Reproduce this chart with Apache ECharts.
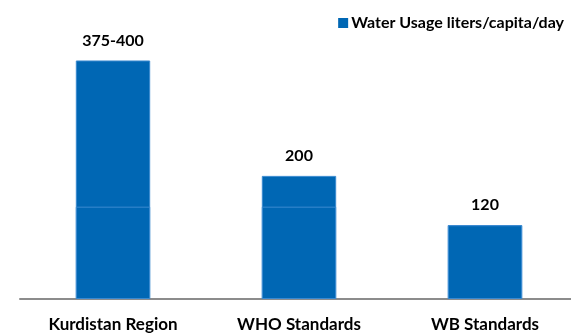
<!DOCTYPE html>
<html>
<head>
<meta charset="utf-8">
<script src="https://cdn.jsdelivr.net/npm/echarts@6/dist/echarts.min.js"></script>
<style>html,body{margin:0;padding:0;background:#fff}#c{width:571px;height:335px}</style>
</head>
<body>
<div id="c"></div>
<script>
const categories = ['Kurdistan Region', 'WHO Standards', 'WB Standards'];
const values = [387.5, 200, 120];
const valueLabels = ['375-400', '200', '120'];
const seriesName = 'Water Usage liters/capita/day';
const splitAt = 150;

const chart = echarts.init(document.getElementById('c'), null, {renderer: 'canvas'});
const font = 'Lato';
chart.setOption({
  animation: false,
  backgroundColor: '#ffffff',
  grid: {left: 20, top: 22, width: 558, height: 277, containLabel: false, outerBoundsMode: 'none'},
  legend: {
    data: [seriesName],
    right: 2, top: 10,
    itemWidth: 10, itemHeight: 10, itemGap: 0,
    icon: 'rect',
    itemStyle: {borderWidth: 0},
    textStyle: {fontFamily: font, fontWeight: 'bold', fontSize: 16, color: '#000', padding: [0,0,0,-2]}
  },
  xAxis: {
    type: 'category',
    data: categories,
    axisLine: {lineStyle: {color: '#8c8c8c', width: 2}},
    axisTick: {show: false},
    axisLabel: {fontFamily: font, fontWeight: 'bold', fontSize: 17, color: '#000', margin: 17}
  },
  yAxis: {
    type: 'value', min: 0, max: 450, show: false,
    splitLine: {show: false}
  },
  series: [
    {
      name: seriesName,
      type: 'bar',
      data: values,
      barWidth: '40%',
      itemStyle: {color: '#0067b4', borderColor: '#3b8ad0', borderWidth: 1},
      label: {
        show: true, position: 'top', distance: 12,
        fontFamily: font, fontWeight: 'bold', fontSize: 16, color: '#000',
        formatter: p => valueLabels[p.dataIndex]
      },
      z: 2
    },
    {
      name: 'split',
      type: 'bar',
      data: values.map(v => Math.min(v, splitAt)),
      barWidth: '40%',
      barGap: '-100%',
      silent: true,
      itemStyle: {color: 'rgba(0,0,0,0)', borderColor: '#3b8ad0', borderWidth: 1},
      label: {show: false},
      z: 3
    }
  ]
});
</script>
</body>
</html>
